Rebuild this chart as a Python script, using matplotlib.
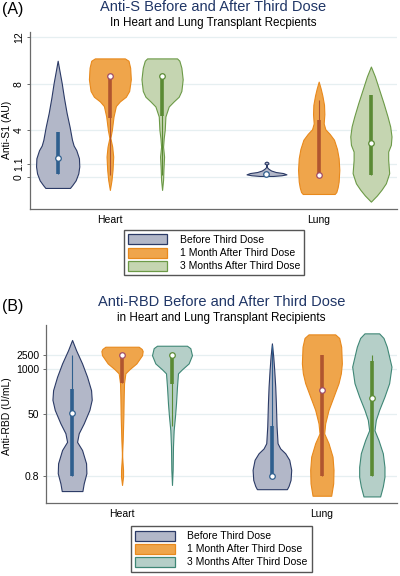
# -*- coding: utf-8 -*-
"""Anti-S / Anti-RBD violins, heart vs lung transplant recipients."""
import matplotlib
matplotlib.use("Agg")
import matplotlib.pyplot as plt
from matplotlib.patches import Patch
from matplotlib.ticker import FixedLocator, FixedFormatter, NullLocator
import numpy as np

plt.rcParams.update({"font.family": ["Liberation Sans", "DejaVu Sans"], "font.size": 7.5})

GROUPS = ["Heart", "Lung"]
SERIES = ["Before Third Dose", "1 Month After Third Dose", "3 Months After Third Dose"]

# ---- panel A: Anti-S1 (AU), violin outlines (value, relative density) ----
a_hb_y = [10.0, 9.2, 8.1, 6.8, 5.5, 4.3, 3.2, 2.7, 2.3, 1.6, 0.9, 0.3, -0.3, -0.7, -0.95]
a_hb_d = [0, 5, 12, 19, 27, 36, 43, 48, 56, 64, 65, 62, 54, 44, 37]
a_h1_y = [10.2, 10.0, 9.4, 8.4, 7.4, 6.9, 6.5, 6.1, 5.2, 4.05, 3.35, 2.6, 1.75, 0.6, -0.26, -1.12]
a_h1_d = [45, 56, 61, 63, 58, 48, 30, 18, 11, 6, 1.5, 7, 10, 8, 5, 0]
a_h3_y = [10.2, 10.0, 9.4, 8.4, 7.4, 6.9, 6.5, 6.06, 5.2, 4.05, 3.35, 2.6, 1.75, 0.6, -0.26, -1.12]
a_h3_d = [45, 52, 58, 62, 58, 50, 35, 20, 10, 8, 5, 3, 6, 4, 3, 0]
a_lb_y = [1.32, 1.25, 1.15, 1.07, 0.85, 0.7, 0.55, 0.42, 0.33, 0.22, 0.14, 0.08]
a_lb_d = [0, 5, 6, 1, 1, 6, 14, 28, 50, 60, 45, 20]
a_l1_y = [8.2, 7.6, 7.0, 6.2, 5.4, 4.6, 4.1, 3.7, 3.2, 2.4, 1.6, 0.6, -0.4, -0.9, -1.3, -1.47]
a_l1_d = [0, 6, 11, 16, 17, 15, 20, 33, 46, 55, 60, 62, 60, 57, 53, 48]
a_l3_y = [9.5, 8.65, 7.5, 6.35, 5.2, 4.34, 3.48, 2.76, 2.18, 1.46, 0.32, -0.55, -1.1, -1.6, -2.13]
a_l3_d = [0, 12, 25, 38, 50, 58, 62, 60, 52, 52, 55, 45, 32, 18, 0]
# box summaries: q1, q3, median, whisker low, whisker high
a_q1 = [0.26, 5.06, 5.2, 0.2, 0.2, 0.2]
a_q3 = [3.9, 8.8, 8.8, 0.25, 4.9, 7.05]
a_med = [1.6, 8.65, 8.7, 0.22, 0.2, 2.96]
a_wlo = [0.26, 0.17, 0.17, 0.2, 0.2, 0.2]
a_whi = [3.9, 8.8, 8.8, 0.25, 6.6, 7.05]

# ---- panel B: Anti-RBD (U/mL), log scale ----
b_hb_y = [6900, 3500, 1450, 600, 245, 130, 66, 27, 14, 7.9, 4.6, 1.9, 0.98, 0.5, 0.3]
b_hb_d = [0, 12, 30, 45, 57, 59, 52, 35, 20, 15, 30, 42, 43, 35, 31]
b_h1_y = [4400, 3800, 3300, 2500, 1450, 980, 750, 390, 160, 43, 8.9, 4.0, 2.95, 2.0, 1.23, 0.78, 0.45]
b_h1_d = [50, 59, 62, 60, 43, 22, 10, 6, 5, 4, 2, 0.5, 0.5, 1.5, 3, 3, 0]
b_h3_y = [4700, 4000, 2500, 1450, 980, 750, 310, 100, 43, 17, 5.8, 1.23, 0.45]
b_h3_d = [45, 55, 60, 50, 30, 18, 15, 12, 9, 5, 3, 2, 0]
b_lb_y = [5500, 2300, 930, 310, 100, 22, 7.2, 5.1, 3.7, 2.4, 1.23, 0.63, 0.42, 0.34]
b_lb_d = [0, 4, 7, 10, 12, 14, 17, 25, 40, 52, 58, 56, 50, 45]
b_l1_y = [10000, 7900, 4400, 1450, 750, 390, 160, 66, 27, 13.8, 7.2, 2.95, 1.23, 0.5, 0.29, 0.22]
b_l1_d = [40, 52, 58, 60, 57, 50, 35, 20, 10, 7, 20, 32, 35, 34, 30, 28]
b_l3_y = [10700, 7900, 4400, 1170, 390, 160, 66, 34, 17, 8.9, 3.7, 1.5, 0.78, 0.41, 0.21]
b_l3_d = [22, 35, 45, 59, 52, 38, 22, 12, 8, 20, 33, 38, 38, 33, 25]
b_q1 = [0.82, 390, 370, 0.82, 0.82, 0.82]
b_q3 = [257, 2500, 2500, 22, 2500, 1740]
b_med = [55, 2500, 2500, 0.82, 245, 150]
b_wlo = [0.82, 390, 22, 0.82, 0.82, 0.82]
b_whi = [2500, 2500, 2500, 5000, 2500, 2500]

POS = [1, 2, 3, 5, 6, 7]

NAVY = "#1f3566"
FACE = ["#b2b7c8", "#efa54b", "#c5d5b1"]
FACE_B = ["#b2b7c8", "#efa54b", "#b5cfc8"]
EDGE = ["#2b3a66", "#e8891c", "#6c9a47"]
EDGE_B = ["#2b3a66", "#e8891c", "#3f8776"]
BOXC = ["#2f5f8e", "#b0552f", "#5a8a34"]
DOTC = ["#2f5f8e", "#a04c66", "#5a8a34"]
GRID = "#e6eff1"; SPINE = "#6a6a6a"


def violin(ax, pos, ys, dens, scale, face, edge):
    w = np.asarray(dens, dtype=float) * scale
    ax.fill_betweenx(ys, pos - w, pos + w, facecolor=face, edgecolor=edge,
                     linewidth=0.8, zorder=2)


def panel(ax, profiles, scale, faces, edges, q1, q3, med, wlo, whi):
    for i, (pos, (ys, d)) in enumerate(zip(POS, profiles)):
        k = i % 3
        violin(ax, pos, ys, d, scale, faces[k], edges[k])
        ax.vlines(pos, wlo[i], whi[i], color=BOXC[k], linewidth=0.8, zorder=3)
        ax.vlines(pos, q1[i], q3[i], color=BOXC[k], linewidth=2.6, zorder=3)
        ax.plot(pos, med[i], "o", ms=4, mfc="white", mec=DOTC[k], mew=0.9, zorder=4)
    ax.set_xlim(0.47, 7.5)
    ax.set_xticks([2, 6])
    ax.set_xticklabels(GROUPS, fontsize=7.5)
    ax.tick_params(axis="x", length=0, pad=4)
    ax.tick_params(axis="y", length=2.5, width=0.7, color=SPINE, pad=2)
    ax.grid(axis="y", color=GRID, linewidth=0.9, zorder=0)
    ax.set_axisbelow(True)
    for s in ["top", "right"]:
        ax.spines[s].set_visible(False)
    for s in ["left", "bottom"]:
        ax.spines[s].set_color(SPINE)
        ax.spines[s].set_linewidth(0.9)


fig = plt.figure(figsize=(4, 5.76), dpi=100)

# panel A
axA = fig.add_axes([0.075, 0.6372, 0.9175, 0.3078])
panel(axA, [(a_hb_y, a_hb_d), (a_h1_y, a_h1_d), (a_h3_y, a_h3_d),
            (a_lb_y, a_lb_d), (a_l1_y, a_l1_d), (a_l3_y, a_l3_d)],
      1 / 157, FACE, EDGE, a_q1, a_q3, a_med, a_wlo, a_whi)
axA.set_ylim(-2.76, 12.5)
axA.set_yticks([0, 1.1, 4, 8, 12])
axA.set_yticklabels(["0", "1.1", "4", "8", "12"], rotation=90, va="center", fontsize=7.5)
axA.set_ylabel("Anti-S1 (AU)", fontsize=7.5)
axA.yaxis.set_label_coords(-0.05, 0.446)

fig.text(0.031, 0.983, "(A)", fontsize=11.5, ha="center", va="center")
fig.text(0.533, 0.988, "Anti-S Before and After Third Dose", fontsize=10.5,
         color=NAVY, ha="center", va="center")
fig.text(0.533, 0.9595, "In Heart and Lung Transplant Recpients", fontsize=8.4,
         ha="center", va="center")

handles = [Patch(facecolor=FACE[k], edgecolor=EDGE[k], linewidth=0.9, label=SERIES[k]) for k in range(3)]
fig.legend(handles=handles, loc="center", bbox_to_anchor=(0.535, 0.561), fontsize=7.5,
           fancybox=False, edgecolor="#555555", handlelength=3.8, handleheight=1.1,
           labelspacing=0.25, borderpad=0.4, handletextpad=1.2, framealpha=1)

# panel B
axB = fig.add_axes([0.114, 0.1262, 0.878, 0.3095])
axB.set_yscale("log")
panel(axB, [(b_hb_y, b_hb_d), (b_h1_y, b_h1_d), (b_h3_y, b_h3_d),
            (b_lb_y, b_lb_d), (b_l1_y, b_l1_d), (b_l3_y, b_l3_d)],
      1 / 150, FACE_B, EDGE_B, b_q1, b_q3, b_med, b_wlo, b_whi)
axB.set_ylim(0.133, 18600)
axB.yaxis.set_major_locator(FixedLocator([0.8, 50, 1000, 2500]))
axB.yaxis.set_major_formatter(FixedFormatter(["0.8", "50", "1000", "2500"]))
axB.yaxis.set_minor_locator(NullLocator())
axB.tick_params(axis="y", labelsize=7.5)
axB.set_ylabel("Anti-RBD (U/mL)", fontsize=7.5)
axB.yaxis.set_label_coords(-0.097, 0.49)

fig.text(0.031, 0.4676, "(B)", fontsize=11.5, ha="center", va="center")
fig.text(0.554, 0.4763, "Anti-RBD Before and After Third Dose", fontsize=10.5,
         color=NAVY, ha="center", va="center")
fig.text(0.554, 0.4473, "in Heart and Lung Transplant Recipients", fontsize=8.4,
         ha="center", va="center")

handles = [Patch(facecolor=FACE_B[k], edgecolor=EDGE_B[k], linewidth=0.9, label=SERIES[k]) for k in range(3)]
fig.legend(handles=handles, loc="center", bbox_to_anchor=(0.553, 0.047), fontsize=7.5,
           fancybox=False, edgecolor="#555555", handlelength=3.8, handleheight=1.1,
           labelspacing=0.25, borderpad=0.4, handletextpad=1.2, framealpha=1)

fig.savefig("out.png", dpi=100, facecolor="white")
